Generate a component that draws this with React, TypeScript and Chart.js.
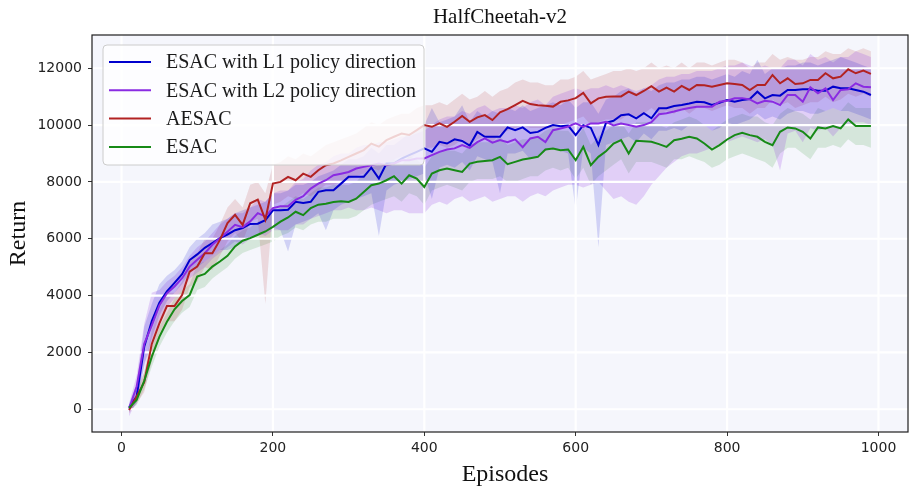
import React, { useEffect, useRef } from "react";
import { Chart, registerables } from "chart.js";
Chart.register(...registerables);

const episodes = [
  10, 20, 30, 40, 50, 60, 70, 80, 90, 100,
  110, 120, 130, 140, 150, 160, 170, 180, 190, 200,
  210, 220, 230, 240, 250, 260, 270, 280, 290, 300,
  310, 320, 330, 340, 350, 360, 370, 380, 390, 400,
  410, 420, 430, 440, 450, 460, 470, 480, 490, 500,
  510, 520, 530, 540, 550, 560, 570, 580, 590, 600,
  610, 620, 630, 640, 650, 660, 670, 680, 690, 700,
  710, 720, 730, 740, 750, 760, 770, 780, 790, 800,
  810, 820, 830, 840, 850, 860, 870, 880, 890, 900,
  910, 920, 930, 940, 950, 960, 970, 980, 990,
];

// ESAC with L1 policy direction
const l1Mean = [
  80, 450, 2200, 3100, 3750, 4150, 4450, 4750, 5250, 5450,
  5680, 5850, 6020, 6150, 6300, 6380, 6520, 6530, 6650, 7000,
  7000, 7020, 7300, 7260, 7300, 7650, 7710, 7710, 7940, 8180,
  8180, 8180, 8500, 8120, 8650, 8650, 8820, 8940, 9060, 9180,
  9060, 9410, 9350, 9500, 9440, 9280, 9760, 9590, 9590, 9590,
  9920, 9820, 9920, 9720, 9760, 9900, 10000, 9960, 9980, 9650,
  10000, 9900, 9300, 10080, 10150, 10350, 10380, 10240, 10420, 10240,
  10590, 10590, 10670, 10705, 10760, 10823, 10800, 10705, 10788, 10882,
  10823, 10882, 10917, 11176, 10941, 11058, 11035, 11235, 11235, 11258,
  11258, 11211, 11211, 11352, 11294, 11294, 11235, 11176, 11058,
];
const l1Low = [
  -100, 200, 1500, 2500, 3300, 3800, 4100, 4400, 4800, 5000,
  5200, 5400, 5600, 5600, 5700, 5900, 6000, 6100, 6200, 6400,
  6300, 5550, 6500, 6600, 6700, 6900, 6300, 7000, 7200, 7300,
  7400, 7500, 7600, 6100, 7700, 7900, 8000, 8100, 8200, 8300,
  7400, 8500, 8600, 8500, 8700, 8400, 8900, 8800, 8700, 7600,
  9000, 9000, 9100, 8800, 8900, 9100, 9200, 9100, 9000, 7000,
  9200, 9000, 5700, 9300, 9400, 9500, 9600, 9400, 9700, 9500,
  9800, 9800, 9900, 9800, 10000, 10000, 10000, 9800, 9900, 10100,
  10000, 10100, 10200, 10400, 10200, 10300, 10200, 10400, 10500, 10500,
  10400, 10400, 10500, 10600, 10500, 10500, 10400, 10300, 10200,
];
const l1High = [
  200, 900, 2900, 3700, 4400, 4700, 4900, 5200, 5700, 6000,
  6200, 6500, 6600, 6700, 6900, 7000, 7100, 7200, 7300, 7600,
  7600, 7700, 7900, 7900, 8000, 8200, 8300, 8400, 8600, 8800,
  8800, 8900, 9200, 9000, 9300, 9300, 9500, 9700, 9800, 10000,
  10600, 10100, 10200, 10300, 10700, 10100, 10500, 10300, 10500, 10400,
  10600, 10500, 10700, 10500, 10600, 10700, 10800, 10700, 10900, 10600,
  10800, 10800, 10400, 10900, 11000, 11200, 11300, 11100, 11300, 11200,
  11400, 11500, 11500, 11600, 11600, 11700, 11700, 11600, 11700, 11800,
  11700, 11900, 11800, 12300, 11800, 12000, 12000, 12100, 12100, 12200,
  12200, 12100, 12200, 12300, 12400, 12300, 12200, 12100, 12000,
];

// ESAC with L2 policy direction
const l2Mean = [
  20, 800, 2300, 2950, 3650, 4080, 4320, 4610, 5020, 5260,
  5490, 5790, 6020, 6250, 6490, 6410, 6610, 6900, 6790, 7080,
  7140, 7140, 7370, 7500, 7765, 7940, 8060, 8235, 8290, 8350,
  8470, 8530, 8590, 8650, 8590, 8650, 8760, 8760, 8820, 8823,
  8940, 9058, 9140, 9180, 9300, 9200, 9400, 9529, 9380, 9470,
  9400, 9500, 9220, 9529, 9588, 9400, 9820, 9880, 9950, 10058,
  9940, 10058, 10058, 10117, 9990, 10058, 10000, 9940, 10000, 10100,
  10380, 10420, 10480, 10550, 10600, 10646, 10647, 10647, 10823, 10858,
  10941, 10941, 10905, 10764, 10858, 10823, 10705, 11058, 11058, 10823,
  11329, 11117, 11294, 10882, 11235, 11258, 11470, 11352, 11329,
];
const l2Low = [
  -250, 300, 1600, 2300, 3100, 3600, 3900, 4200, 4600, 4800,
  5000, 5300, 5500, 5700, 5900, 5800, 6000, 6200, 6100, 6300,
  6300, 6300, 6500, 6500, 6700, 6800, 6900, 7000, 7000, 7100,
  7000, 7000, 7100, 7000, 6900, 7000, 7000, 6900, 6900, 6900,
  7200, 7300, 7200, 7400, 7500, 7300, 7400, 7500, 7300, 7400,
  7500, 7500, 7300, 7500, 7600, 7500, 7700, 7800, 7900, 7900,
  7800, 7900, 8000, 7700, 7400, 7500, 7300, 7200, 7500, 7900,
  8200, 8500, 8700, 8900, 9000, 9000, 9100, 9200, 9300, 9400,
  9500, 9600, 9500, 9400, 9500, 9300, 8400, 9700, 9800, 9400,
  9900, 9800, 9900, 9600, 9900, 10000, 10100, 10100, 10000,
];
const l2High = [
  200, 1200, 3000, 4100, 4200, 4500, 4700, 5000, 5400, 5700,
  5900, 6200, 6500, 6700, 6900, 6900, 7100, 7400, 7300, 7600,
  7700, 7700, 8000, 8100, 8400, 8600, 8700, 8900, 9000, 9000,
  9200, 9300, 9300, 9400, 9400, 9500, 9600, 9600, 9700, 9800,
  10000, 10200, 10300, 10300, 10500, 10400, 10600, 10700, 10500, 10600,
  10600, 10700, 10600, 10800, 10900, 10700, 11000, 11100, 11200, 11300,
  11200, 11300, 11300, 11400, 11300, 11400, 11300, 11200, 11300, 11400,
  11600, 11700, 11700, 11800, 11800, 11900, 11900, 11900, 12000, 12100,
  12100, 12200, 12100, 12000, 12100, 12000, 12000, 12300, 12300, 12100,
  12500, 12300, 12400, 12200, 12400, 12400, 12600, 12500, 12400,
];

// AESAC
const aesacMean = [
  -30, 450, 950, 2300, 3020, 3630, 3630, 4020, 4840, 5020,
  5490, 5490, 5960, 6550, 6840, 6490, 7250, 7380, 6670, 7940,
  8000, 8180, 8060, 8290, 8180, 8410, 8590, 8650, 8760, 8880,
  9000, 9120, 9350, 9240, 9470, 9590, 9700, 9650, 9820, 10000,
  9940, 10058, 9940, 10117, 10320, 10117, 10270, 10352, 10176, 10450,
  10560, 10705, 10850, 10740, 10700, 10680, 10650, 10820, 10870, 10950,
  11130, 10764, 10940, 11000, 11010, 11010, 11176, 11058, 11200, 11370,
  11176, 11320, 11176, 11380, 11235, 11411, 11400, 11352, 11411, 11470,
  11446, 11411, 11235, 11411, 11411, 11764, 11470, 11646, 11446, 11470,
  11588, 11588, 11823, 11646, 11705, 11964, 11823, 11917, 11800,
];
const aesacLow = [
  -150, 200, 600, 1700, 2500, 3100, 3100, 3500, 4300, 4500,
  5000, 4900, 5400, 5900, 6200, 5900, 6600, 6700, 3700, 7200,
  7300, 7500, 7400, 7600, 7500, 7700, 7900, 7900, 8000, 8100,
  8200, 8300, 8500, 8400, 8700, 8800, 8900, 8800, 9000, 9200,
  9200, 9300, 9200, 9300, 9500, 9300, 9500, 9600, 9400, 9700,
  9800, 9900, 10000, 9900, 9900, 9900, 9900, 10000, 10100, 10200,
  10300, 10000, 10100, 10200, 10200, 10200, 10400, 10300, 10400, 10600,
  10400, 10500, 10400, 10600, 10400, 10600, 10600, 10500, 10600, 10700,
  10600, 10600, 10400, 10600, 10600, 10900, 10700, 10800, 10600, 10700,
  10800, 10800, 11000, 10800, 10900, 11100, 11000, 11100, 11000,
];
const aesacHigh = [
  100, 700, 1300, 2800, 3500, 4100, 4100, 4500, 5300, 5500,
  6000, 6000, 6500, 7100, 7400, 7100, 7900, 8000, 7600, 8600,
  8700, 8900, 8800, 9000, 8900, 9100, 9300, 9400, 9500, 9600,
  9700, 9900, 10100, 10000, 10200, 10300, 10400, 10400, 10600, 10700,
  10700, 10800, 10700, 10900, 11100, 10900, 11000, 11200, 11000, 11200,
  11300, 11500, 11600, 11500, 11500, 11400, 11400, 11600, 11600, 11700,
  11900, 11600, 11700, 11800, 11900, 11900, 12000, 11900, 12000, 12200,
  12000, 12100, 12000, 12200, 12000, 12200, 12200, 12100, 12200, 12300,
  12300, 12200, 12000, 12200, 12200, 12500, 12300, 12400, 12300, 12300,
  12400, 12400, 12600, 12500, 12500, 12700, 12600, 12700, 12600,
];

// ESAC
const esacMean = [
  50, 330, 1000, 1850, 2550, 3080, 3520, 3810, 4020, 4670,
  4760, 5020, 5200, 5400, 5730, 5930, 6020, 6140, 6256, 6420,
  6600, 6750, 6950, 6830, 7080, 7200, 7235, 7290, 7320, 7294,
  7412, 7647, 7882, 7941, 8059, 8200, 7941, 8235, 8118, 7823,
  8294, 8411, 8470, 8411, 8353, 8647, 8706, 8740, 8764, 8882,
  8623, 8706, 8788, 8835, 8882, 9140, 9176, 9117, 9140, 8764,
  9235, 8588, 8882, 9080, 9352, 9470, 9000, 9447, 9435, 9411,
  9330, 9235, 9470, 9517, 9588, 9529, 9352, 9140, 9294, 9494,
  9646, 9729, 9646, 9588, 9411, 9294, 9764, 9917, 9882, 9764,
  9529, 9917, 9882, 9964, 9882, 10199, 9964, 9964, 9964,
];
const esacLow = [
  -50, 150, 700, 1500, 2200, 2700, 3100, 3400, 3600, 4200,
  4300, 4600, 4800, 5000, 5300, 5500, 5600, 5700, 5800, 5900,
  6100, 6200, 6400, 6300, 6500, 6600, 6600, 6700, 6700, 6700,
  6800, 7000, 7200, 7300, 7400, 7500, 7300, 7600, 7500, 7200,
  7700, 7800, 7900, 7800, 7700, 8000, 8100, 8100, 8100, 8200,
  8000, 8000, 8100, 8200, 8200, 8400, 8500, 8400, 8500, 8100,
  8500, 7900, 8200, 8400, 8600, 8800, 8300, 8700, 8700, 8700,
  8600, 8500, 8800, 8800, 8900, 8800, 8700, 8500, 8600, 8800,
  8900, 9000, 8900, 8800, 8700, 8500, 9000, 9200, 9200, 9000,
  8800, 9200, 9200, 9300, 9200, 9500, 9300, 9300, 9200,
];
const esacHigh = [
  150, 550, 1300, 2200, 2900, 3400, 3900, 4200, 4400, 5100,
  5200, 5400, 5600, 5800, 6100, 6300, 6400, 6600, 6700, 6900,
  7100, 7300, 7500, 7400, 7600, 7800, 7800, 7900, 7900, 7900,
  8000, 8300, 8500, 8600, 8700, 8800, 8600, 8900, 8800, 8500,
  8900, 9100, 9100, 9100, 9000, 9300, 9400, 9400, 9400, 9600,
  9300, 9400, 9500, 9500, 9600, 9800, 9900, 9800, 9800, 9500,
  9900, 9300, 9600, 9800, 10000, 10100, 9700, 10100, 10100, 10100,
  10000, 9900, 10100, 10200, 10300, 10200, 10000, 9800, 10000, 10200,
  10300, 10400, 10300, 10300, 10100, 10000, 10400, 10600, 10500, 10400,
  10200, 10600, 10500, 10600, 10500, 10800, 10600, 10600, 10600,
];

const seriesLabels = [
  "ESAC with L1 policy direction",
  "ESAC with L2 policy direction",
  "AESAC",
  "ESAC",
];
const xTickValues = [0, 200, 400, 600, 800, 1000];
const yTickValues = [0, 2000, 4000, 6000, 8000, 10000, 12000];
const chartTitle = "HalfCheetah-v2";
const xTitle = "Episodes";
const yTitle = "Return";

const lineColors = ["#0000cd", "#8a2be2", "#b22222", "#178a17"];
const bandColors = [
  "rgba(0,0,205,0.15)",
  "rgba(138,43,226,0.19)",
  "rgba(178,34,34,0.14)",
  "rgba(34,139,34,0.15)",
];

const means = [l1Mean, l2Mean, aesacMean, esacMean];
const lows = [l1Low, l2Low, aesacLow, esacLow];
const highs = [l1High, l2High, aesacHigh, esacHigh];

const SERIF = '"Liberation Serif", "Times New Roman", serif';

function pts(arr: number[]) {
  return arr.map((y, i) => ({ x: episodes[i], y }));
}

export default function App() {
  const ref = useRef<HTMLCanvasElement | null>(null);

  useEffect(() => {
    document.body.style.margin = "0";
    const canvas = ref.current;
    if (!canvas) return;

    const datasets: any[] = [];
    for (let i = 0; i < 4; i++) {
      datasets.push({
        label: seriesLabels[i] + " low",
        data: pts(lows[i]),
        borderWidth: 0,
        borderColor: "rgba(0,0,0,0)",
        pointRadius: 0,
        fill: false,
        order: 20 + i,
        isBand: true,
      });
      datasets.push({
        label: seriesLabels[i] + " high",
        data: pts(highs[i]),
        borderWidth: 0,
        borderColor: "rgba(0,0,0,0)",
        backgroundColor: bandColors[i],
        pointRadius: 0,
        fill: "-1",
        order: 20 + i,
        isBand: true,
      });
    }
    for (let i = 0; i < 4; i++) {
      datasets.push({
        label: seriesLabels[i],
        data: pts(means[i]),
        borderColor: lineColors[i],
        backgroundColor: lineColors[i],
        borderWidth: 2,
        pointRadius: 0,
        fill: false,
        tension: 0,
        order: 3 - i,
        isLine: true,
      });
    }

    let gridDone = false;
    const decor = {
      id: "decor",
      beforeDraw(chart: any) {
        const { ctx, chartArea: a } = chart;
        ctx.save();
        ctx.fillStyle = "#ffffff";
        ctx.fillRect(0, 0, chart.width, chart.height);
        ctx.fillStyle = "#f5f6fc";
        ctx.fillRect(a.left, a.top, a.right - a.left, a.bottom - a.top);
        ctx.restore();
      },
      beforeDatasetsDraw() {
        gridDone = false;
      },
      beforeDatasetDraw(chart: any, args: any) {
        const ds = chart.data.datasets[args.index];
        if (!ds.isLine || gridDone) return;
        gridDone = true;
        const { ctx, chartArea: a } = chart;
        const xs = chart.scales.x;
        const ys = chart.scales.y;
        ctx.save();
        ctx.beginPath();
        ctx.rect(a.left, a.top, a.right - a.left, a.bottom - a.top);
        ctx.clip();
        ctx.strokeStyle = "#ffffff";
        ctx.lineWidth = 2.2;
        ctx.beginPath();
        for (const v of xTickValues) {
          const px = xs.getPixelForValue(v);
          ctx.moveTo(px, a.top);
          ctx.lineTo(px, a.bottom);
        }
        for (const v of yTickValues) {
          const py = ys.getPixelForValue(v);
          ctx.moveTo(a.left, py);
          ctx.lineTo(a.right, py);
        }
        ctx.stroke();
        ctx.restore();
      },
      afterDraw(chart: any) {
        const { ctx, chartArea: a } = chart;
        ctx.save();
        ctx.strokeStyle = "#1e1e1e";
        ctx.lineWidth = 1.2;
        ctx.strokeRect(a.left, a.top, a.right - a.left, a.bottom - a.top);

        ctx.fillStyle = "#111111";
        ctx.font = "21px " + SERIF;
        ctx.textAlign = "center";
        ctx.textBaseline = "alphabetic";
        ctx.fillText(chartTitle, (a.left + a.right) / 2, 23);

        ctx.font = "24px " + SERIF;
        ctx.fillText(xTitle, (a.left + a.right) / 2 + 5, 481);

        ctx.save();
        ctx.translate(25, (a.top + a.bottom) / 2);
        ctx.rotate(-Math.PI / 2);
        ctx.fillText(yTitle, 0, 0);
        ctx.restore();

        const lx = a.left + 11;
        const ly = a.top + 10;
        const lw = 321;
        const lh = 120;
        const r = 4;
        ctx.beginPath();
        ctx.moveTo(lx + r, ly);
        ctx.lineTo(lx + lw - r, ly);
        ctx.arcTo(lx + lw, ly, lx + lw, ly + r, r);
        ctx.lineTo(lx + lw, ly + lh - r);
        ctx.arcTo(lx + lw, ly + lh, lx + lw - r, ly + lh, r);
        ctx.lineTo(lx + r, ly + lh);
        ctx.arcTo(lx, ly + lh, lx, ly + lh - r, r);
        ctx.lineTo(lx, ly + r);
        ctx.arcTo(lx, ly, lx + r, ly, r);
        ctx.closePath();
        ctx.fillStyle = "rgba(255,255,255,0.8)";
        ctx.fill();
        ctx.strokeStyle = "#cccccc";
        ctx.lineWidth = 1;
        ctx.stroke();

        ctx.font = "20px " + SERIF;
        ctx.textAlign = "left";
        ctx.textBaseline = "middle";
        const lineDs = chart.data.datasets.filter((d: any) => d.isLine);
        lineDs.forEach((d: any, k: number) => {
          const yy = ly + 17 + k * 28.3;
          ctx.strokeStyle = d.borderColor;
          ctx.lineWidth = 2;
          ctx.beginPath();
          ctx.moveTo(lx + 6, yy);
          ctx.lineTo(lx + 48, yy);
          ctx.stroke();
          ctx.fillStyle = "#1a1a1a";
          ctx.fillText(d.label, lx + 63, yy + 1);
        });
        ctx.restore();
      },
    };

    const tickFont = { family: "'DejaVu Sans', sans-serif", size: 14 };

    const chart = new Chart(canvas, {
      type: "line",
      data: { datasets },
      options: {
        animation: false,
        responsive: false,
        devicePixelRatio: 1,
        layout: { padding: { top: 35, right: 1, left: 0, bottom: 0 } },
        plugins: {
          legend: { display: false },
          title: { display: false },
          tooltip: { enabled: false },
        },
        elements: { line: { tension: 0 } },
        scales: {
          x: {
            type: "linear",
            min: -39,
            max: 1039,
            afterBuildTicks: (s: any) => {
              s.ticks = xTickValues.map((v) => ({ value: v }));
            },
            afterFit: (s: any) => {
              s.height = 56;
            },
            ticks: {
              font: tickFont,
              color: "#222222",
              padding: 4,
              maxRotation: 0,
              autoSkip: false,
              callback: (v: any) => String(v),
            },
            grid: {
              drawOnChartArea: false,
              drawTicks: true,
              tickLength: 4,
              tickColor: "#333333",
              tickWidth: 1,
            },
            border: { display: false },
          },
          y: {
            type: "linear",
            min: -800,
            max: 13170,
            afterBuildTicks: (s: any) => {
              s.ticks = yTickValues.map((v) => ({ value: v }));
            },
            afterFit: (s: any) => {
              s.width = 92;
            },
            ticks: {
              font: tickFont,
              color: "#222222",
              padding: 6,
              autoSkip: false,
              callback: (v: any) => String(v),
            },
            grid: {
              drawOnChartArea: false,
              drawTicks: true,
              tickLength: 4,
              tickColor: "#333333",
              tickWidth: 1,
            },
            border: { display: false },
          },
        },
      } as any,
      plugins: [decor],
    });

    return () => {
      chart.destroy();
    };
  }, []);

  return (
    <div style={{ position: "absolute", left: 0, top: 0, width: 909, height: 488, background: "#ffffff" }}>
      <canvas ref={ref} width={909} height={488} style={{ width: 909, height: 488, display: "block" }} />
    </div>
  );
}
